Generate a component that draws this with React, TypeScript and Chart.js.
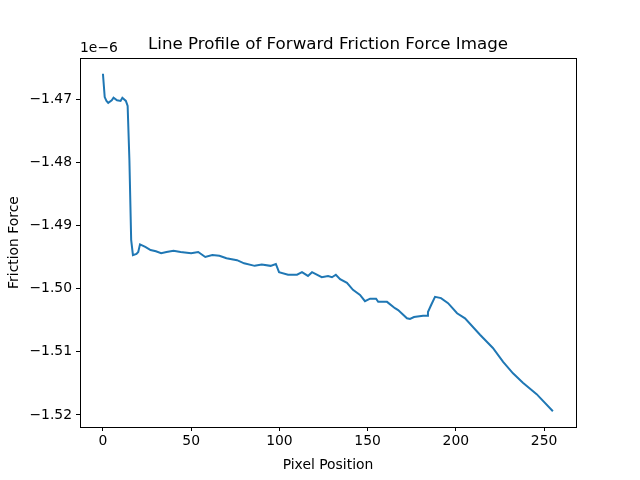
import React, { useEffect, useRef } from "react";
import { Chart, registerables } from "chart.js";
Chart.register(...registerables);

const xs = [0,1,2,3,5,6,8,10,11,13,14,15,16,17,19,20,21,24,27,30,33,36,40,44,50,54,58,62,66,70,76,80,86,90,95,98,99.8,104.9,110,112.8,116.2,118.5,124,127.6,129.8,132,134.4,138.3,141.7,145.7,148.5,151.4,154.8,156,161,165.5,167.3,172.3,174,176.3,181.4,183.7,184.2,186,188.2,191.6,195.6,200.7,205.2,213.7,221,226.8,232.4,238,245.8,255];
const ys = [-1.4660,-1.4697,-1.4703,-1.4706,-1.4702,-1.4698,-1.4702,-1.4703,-1.4698,-1.4703,-1.4711,-1.4797,-1.4923,-1.4947,-1.4945,-1.4942,-1.4930,-1.4934,-1.4939,-1.4941,-1.4944,-1.4942,-1.4940,-1.4942,-1.4944,-1.4942,-1.4950,-1.4947,-1.4948,-1.4952,-1.4955,-1.4960,-1.4964,-1.4962,-1.4964,-1.4961,-1.4974,-1.4978,-1.4978,-1.4974,-1.4980,-1.4974,-1.4982,-1.4980,-1.4982,-1.4978,-1.4985,-1.4991,-1.5002,-1.5010,-1.5020,-1.5016,-1.5016,-1.5021,-1.5021,-1.5031,-1.5034,-1.5047,-1.5048,-1.5045,-1.5043,-1.5043,-1.5037,-1.5026,-1.5013,-1.5015,-1.5023,-1.5039,-1.5047,-1.5073,-1.5094,-1.5116,-1.5134,-1.5149,-1.5167,-1.5194];
const xTicks = [0, 50, 100, 150, 200, 250];
const yTicks = [-1.47, -1.48, -1.49, -1.5, -1.51, -1.52];

const FONT = "'DejaVu Sans', sans-serif";

export default function App() {
  const ref = useRef<HTMLCanvasElement>(null);
  useEffect(() => {
    const deco = {
      id: "deco",
      afterDraw(c: any) {
        const ctx = c.ctx, a = c.chartArea;
        ctx.save();
        ctx.strokeStyle = "#000"; ctx.lineWidth = 1;
        ctx.strokeRect(Math.round(a.left) + 0.5, Math.round(a.top) + 0.5, Math.round(a.right - a.left), Math.round(a.bottom - a.top));
        ctx.fillStyle = "#000";
        ctx.font = `16.7px ${FONT}`; ctx.textAlign = "center"; ctx.textBaseline = "alphabetic";
        ctx.fillText("Line Profile of Forward Friction Force Image", (a.left + a.right) / 2, 49);
        ctx.font = `13.9px ${FONT}`; ctx.textAlign = "left";
        ctx.fillText("1e\u22126", 80, 52);
        ctx.restore();
      },
    };
    const chart = new Chart(ref.current!, {
      type: "line",
      data: { datasets: [{ data: xs.map((x, i) => ({ x, y: ys[i] })), borderColor: "#1f77b4", borderWidth: 2, pointRadius: 0, tension: 0 }] },
      options: {
        animation: false, responsive: false,
        layout: { padding: { top: 58, right: 64, left: 0, bottom: 0 } },
        plugins: { legend: { display: false }, tooltip: { enabled: false } },
        scales: {
          x: {
            type: "linear", min: -13, max: 268.1,
            afterFit: (s: any) => { s.height = 53; },
            afterBuildTicks: (s: any) => { s.ticks = xTicks.map(v => ({ value: v })); },
            ticks: { color: "#000", font: { family: FONT, size: 13.9 }, padding: 2 },
            grid: { drawOnChartArea: false, drawTicks: true, tickLength: 4, color: "#000" },
            border: { color: "#000" },
            title: { display: true, text: "Pixel Position", color: "#000", font: { family: FONT, size: 13.9 }, padding: { top: 0, bottom: 6 } },
          },
          y: {
            type: "linear", min: -1.52190, max: -1.46351,
            afterFit: (s: any) => { s.width = 80; },
            afterBuildTicks: (s: any) => { s.ticks = yTicks.map(v => ({ value: v })); },
            ticks: { color: "#000", font: { family: FONT, size: 13.9 }, padding: 4, callback: (v: any) => (Number(v).toFixed(2)).replace("-", "\u2212") },
            grid: { drawOnChartArea: false, drawTicks: true, tickLength: 4, color: "#000" },
            border: { color: "#000" },
            title: { display: true, text: "Friction Force", color: "#000", font: { family: FONT, size: 13.9 }, padding: { top: 6, bottom: 0 } },
          },
        },
      },
      plugins: [deco],
    });
    return () => chart.destroy();
  }, []);
  return (
    <div style={{ position: "fixed", left: 0, top: 0, width: 640, height: 480, background: "#fff" }}>
      <canvas ref={ref} width={640} height={480} style={{ width: 640, height: 480 }} />
    </div>
  );
}
